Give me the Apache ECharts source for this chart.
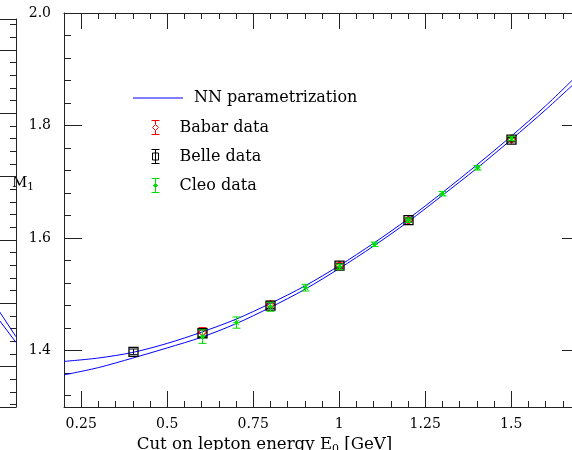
<!DOCTYPE html>
<html>
<head>
<meta charset="utf-8">
<script src="https://cdn.jsdelivr.net/npm/echarts@6.0.0/dist/echarts.min.js"></script>
<style>
html,body{margin:0;padding:0;background:#ffffff;}
#chart{width:572px;height:450px;}
</style>
</head>
<body>
<div id="chart"></div>
<script>
// ---------------- data ----------------
const nnX     = [0.2, 0.3, 0.4, 0.5, 0.6, 0.7, 0.8, 0.9, 1.0, 1.1, 1.2, 1.3, 1.4, 1.5, 1.6, 1.7];
const nnUpper = [1.381, 1.387, 1.397, 1.413, 1.433, 1.456, 1.484, 1.515, 1.551, 1.591, 1.634, 1.681, 1.730, 1.781, 1.835, 1.894];
const nnLower = [1.357, 1.370, 1.387, 1.405, 1.424, 1.448, 1.477, 1.509, 1.546, 1.586, 1.629, 1.676, 1.724, 1.775, 1.828, 1.884];

const babarX   = [0.6, 0.8, 1.0, 1.2, 1.5];
const babarY   = [1.433, 1.482, 1.551, 1.632, 1.776];
const babarErr = [0.008, 0.006, 0.005, 0.004, 0.004];

const belleX   = [0.4, 0.6, 0.8, 1.0, 1.2, 1.5];
const belleY   = [1.398, 1.431, 1.480, 1.551, 1.632, 1.775];
const belleErr = [0.005, 0.006, 0.005, 0.004, 0.004, 0.004];

const cleoX   = [0.6, 0.7, 0.8, 0.9, 1.0, 1.1, 1.2, 1.3, 1.4, 1.5];
const cleoY   = [1.425, 1.450, 1.478, 1.512, 1.549, 1.589, 1.632, 1.679, 1.725, 1.777];
const cleoErr = [0.012, 0.010, 0.008, 0.006, 0.005, 0.004, 0.004, 0.004, 0.004, 0.004];

const xMin = 0.2, xMax = 1.7, yMin = 1.3, yMax = 2.0;
const xMajorTicks = [0.25, 0.5, 0.75, 1, 1.25, 1.5];
const xTickLabels = ['0.25', '0.5', '0.75', '1', '1.25', '1.5'];
const xMinorTicks = [0.3, 0.35, 0.4, 0.45, 0.55, 0.6, 0.65, 0.7, 0.8, 0.85, 0.9, 0.95,
                     1.05, 1.1, 1.15, 1.2, 1.3, 1.35, 1.4, 1.45, 1.55, 1.6, 1.65];
const yMajorTicks = [1.4, 1.6, 1.8, 2.0];
const yTickLabels = ['1.4', '1.6', '1.8', '2.0'];
const yMinorTicks = [1.32, 1.36, 1.44, 1.48, 1.52, 1.56, 1.64, 1.68, 1.72, 1.76, 1.84, 1.88, 1.92, 1.96];

// neighbouring (cropped) panel at the left edge
const sideX = [0.9, 1.0];
const sideUpper = [1.83, 1.11];
const sideLower = [1.65, 1.02];
const sideYMax = 6.13;
const sideMajorTicks = [0.64, 1.64, 2.64, 3.64, 4.64, 5.64];
const sideMinorTicks = [0.04, 0.24, 0.44, 0.84, 1.04, 1.24, 1.44, 1.84, 2.04, 2.24, 2.44, 2.84,
                        3.04, 3.24, 3.44, 3.84, 4.04, 4.24, 4.44, 4.84, 5.04, 5.24, 5.44, 5.84, 6.04];

const legendNames = ['NN parametrization', 'Babar data', 'Belle data', 'Cleo data'];

// ---------------- style ----------------
const FONT = 'DejaVu Serif';
const frame = '#222222';
const BLUE = '#0000ff', RED = '#ff0000', BLACK = '#000000', GREEN = '#00e000';

function xAxisDef(grid, pos, min, max, ticks, len, showLine) {
  return {
    type: 'value', gridIndex: grid, position: pos, min: min, max: max,
    axisLine: { show: showLine, onZero: false, lineStyle: { color: frame, width: 1 } },
    axisTick: ticks ? { show: true, inside: true, length: len, customValues: ticks,
                        lineStyle: { color: frame, width: 1 } } : { show: false },
    axisLabel: { show: false },
    splitLine: { show: false }
  };
}
function yAxisDef(grid, pos, min, max, ticks, len, showLine) {
  return {
    type: 'value', gridIndex: grid, position: pos, min: min, max: max,
    axisLine: { show: showLine, onZero: false, lineStyle: { color: frame, width: 1 } },
    axisTick: ticks ? { show: true, inside: true, length: len, customValues: ticks,
                        lineStyle: { color: frame, width: 1 } } : { show: false },
    axisLabel: { show: false },
    splitLine: { show: false }
  };
}

// bottom main axis with labels + name
const xLabelAxis = xAxisDef(0, 'bottom', xMin, xMax, xMajorTicks, 16, false);
xLabelAxis.axisLabel = {
  show: true, customValues: xMajorTicks, margin: 10,
  fontFamily: FONT, fontSize: 14, color: '#000',
  formatter: function (v) { const i = xMajorTicks.indexOf(v); return i >= 0 ? xTickLabels[i] : String(v); }
};
xLabelAxis.name = 'Cut on lepton energy E{s|0} [GeV]';
xLabelAxis.nameLocation = 'middle';
xLabelAxis.nameGap = 27;
xLabelAxis.nameTextStyle = {
  fontFamily: FONT, fontSize: 16.6, color: '#000', padding: [0, 115, 0, 0],
  rich: { s: { fontFamily: FONT, fontSize: 11, color: '#000', padding: [9, 0, 0, 0] } }
};

const yLabelAxis = yAxisDef(0, 'left', yMin, yMax, yMajorTicks, 18, false);
yLabelAxis.axisLabel = {
  show: true, customValues: yMajorTicks, margin: 13,
  fontFamily: FONT, fontSize: 14, color: '#000',
  formatter: function (v) { const i = yMajorTicks.indexOf(v); return i >= 0 ? yTickLabels[i] : String(v); }
};
yLabelAxis.name = 'M{s|1}';
yLabelAxis.nameLocation = 'middle';
yLabelAxis.nameRotate = 0;
yLabelAxis.nameGap = 30;
yLabelAxis.nameMoveOverlap = false;
yLabelAxis.nameTextStyle = {
  fontFamily: FONT, fontSize: 15, color: '#000', padding: [0, 0, 54, 0],
  rich: { s: { fontFamily: FONT, fontSize: 10.5, color: '#000', padding: [9, 0, 0, 0] } }
};

function errorBarSeries(name, xs, ys, errs, color, marker) {
  return {
    name: name, type: 'custom', xAxisIndex: 0, yAxisIndex: 0,
    itemStyle: { color: color },
    dimensions: ['x', 'y', 'err'],
    encode: { x: 0, y: 1 },
    data: xs.map(function (x, i) { return [x, ys[i], errs[i]]; }),
    z: 3,
    renderItem: function (params, api) {
      const x = api.value(0), y = api.value(1), e = api.value(2);
      const c = api.coord([x, y]);
      const hi = api.coord([x, y + e]);
      const lo = api.coord([x, y - e]);
      const px = Math.round(c[0]) + 0.5;
      const py = c[1];
      const st = { stroke: color, lineWidth: 1, fill: null };
      const cap = 4;
      const ch = [
        { type: 'line', shape: { x1: px, y1: hi[1], x2: px, y2: lo[1] }, style: st },
        { type: 'line', shape: { x1: px - cap, y1: hi[1], x2: px + cap, y2: hi[1] }, style: st },
        { type: 'line', shape: { x1: px - cap, y1: lo[1], x2: px + cap, y2: lo[1] }, style: st }
      ];
      if (marker === 'diamond') {
        ch.push({ type: 'polygon', shape: { points: [[px, py - 4], [px + 4, py], [px, py + 4], [px - 4, py]] },
                  style: { stroke: color, fill: null, lineWidth: 1.2 } });
      } else if (marker === 'square') {
        ch.push({ type: 'rect', shape: { x: px - 4.5, y: py - 4.5, width: 9, height: 9 },
                  style: { stroke: color, fill: null, lineWidth: 1.3 } });
      } else {
        const s = 2.5;
        ch.push({ type: 'line', shape: { x1: px - s - 0.5, y1: py, x2: px + s + 0.5, y2: py }, style: { stroke: color, lineWidth: 1.2 } });
        ch.push({ type: 'line', shape: { x1: px - s, y1: py - s, x2: px + s, y2: py + s }, style: { stroke: color, lineWidth: 1 } });
        ch.push({ type: 'line', shape: { x1: px - s, y1: py + s, x2: px + s, y2: py - s }, style: { stroke: color, lineWidth: 1 } });
        ch.push({ type: 'circle', shape: { cx: px, cy: py, r: 1.6 }, style: { fill: color, stroke: null } });
      }
      return { type: 'group', children: ch };
    }
  };
}

const zip = (xs, ys) => xs.map((x, i) => [x, ys[i]]);

const iconBabar = 'path://M0 0 L8 0 M4 0 L4 4 M4 10 L4 14 M0 14 L8 14 M4 4 L7 7 L4 10 L1 7 Z';
const iconBelle = 'path://M0 0 L8 0 M4 0 L4 14 M0 14 L8 14 M1 3.5 L7 3.5 L7 10.5 L1 10.5 Z';
const iconCleo  = 'path://M0 0 L8 0 M4 0 L4 14 M0 14 L8 14 M1.5 7 L6.5 7 M2.5 5.5 L5.5 8.5 M2.5 8.5 L5.5 5.5';
const iconNN    = 'path://M0 0 L50 0 L50 1 L0 1 Z';

const option = {
  backgroundColor: '#ffffff',
  animation: false,
  textStyle: { fontFamily: FONT },
  grid: [
    { left: 64, right: -8, top: 13, bottom: 43, containLabel: false, outerBoundsMode: 'none' },
    { left: -284, right: 556, top: 19, bottom: 43, containLabel: false, outerBoundsMode: 'none' }
  ],
  legend: [
    {
      data: [{ name: legendNames[0], icon: iconNN, itemStyle: { color: BLUE, borderWidth: 0 } }],
      left: 133, top: 90, padding: 0, itemWidth: 50, itemHeight: 14,
      selectedMode: false,
      textStyle: { fontFamily: FONT, fontSize: 16, color: '#000', lineHeight: 14, padding: [0, 0, 0, 6] }
    },
    {
      data: [
        { name: legendNames[1], icon: iconBabar, itemStyle: { color: 'rgba(0,0,0,0)', borderColor: RED, borderWidth: 1 } },
        { name: legendNames[2], icon: iconBelle, itemStyle: { color: 'rgba(0,0,0,0)', borderColor: BLACK, borderWidth: 1 } },
        { name: legendNames[3], icon: iconCleo,  itemStyle: { color: 'rgba(0,0,0,0)', borderColor: GREEN, borderWidth: 1 } }
      ],
      orient: 'vertical', left: 151, top: 119.5, padding: 0,
      itemWidth: 38, itemHeight: 14, itemGap: 13,
      selectedMode: false,
      textStyle: { fontFamily: FONT, fontSize: 16, color: '#000', lineHeight: 14 }
    }
  ],
  xAxis: [
    xAxisDef(0, 'bottom', xMin, xMax, xMinorTicks, 6, true),
    xLabelAxis,
    xAxisDef(0, 'top', xMin, xMax, xMinorTicks, 6, true),
    xAxisDef(0, 'top', xMin, xMax, xMajorTicks, 16, false),
    xAxisDef(1, 'bottom', 0, 1, null, 0, true),
    xAxisDef(1, 'top', 0, 1, null, 0, true)
  ],
  yAxis: [
    yAxisDef(0, 'left', yMin, yMax, yMinorTicks, 7, true),
    yLabelAxis,
    yAxisDef(0, 'right', yMin, yMax, yMinorTicks, 7, true),
    yAxisDef(0, 'right', yMin, yMax, yMajorTicks, 18, false),
    yAxisDef(1, 'right', 0, sideYMax, sideMinorTicks, 6, true),
    yAxisDef(1, 'right', 0, sideYMax, sideMajorTicks, 18, false)
  ],
  series: [
    { name: legendNames[0], type: 'line', xAxisIndex: 0, yAxisIndex: 0, data: zip(nnX, nnUpper),
      smooth: 0.3, symbol: 'none', lineStyle: { color: BLUE, width: 1 }, itemStyle: { color: BLUE }, z: 2 },
    { name: legendNames[0], type: 'line', xAxisIndex: 0, yAxisIndex: 0, data: zip(nnX, nnLower),
      smooth: 0.3, symbol: 'none', lineStyle: { color: BLUE, width: 1 }, itemStyle: { color: BLUE }, z: 2 },
    errorBarSeries(legendNames[1], babarX, babarY, babarErr, RED, 'diamond'),
    errorBarSeries(legendNames[2], belleX, belleY, belleErr, BLACK, 'square'),
    errorBarSeries(legendNames[3], cleoX, cleoY, cleoErr, GREEN, 'star'),
    { name: 'side-upper', type: 'line', xAxisIndex: 4, yAxisIndex: 4, data: zip(sideX, sideUpper),
      symbol: 'none', lineStyle: { color: BLUE, width: 1 }, silent: true },
    { name: 'side-lower', type: 'line', xAxisIndex: 4, yAxisIndex: 4, data: zip(sideX, sideLower),
      symbol: 'none', lineStyle: { color: BLUE, width: 1 }, silent: true }
  ]
};

const chart = echarts.init(document.getElementById('chart'), null, { renderer: 'canvas' });
chart.setOption(option);
</script>
</body>
</html>
